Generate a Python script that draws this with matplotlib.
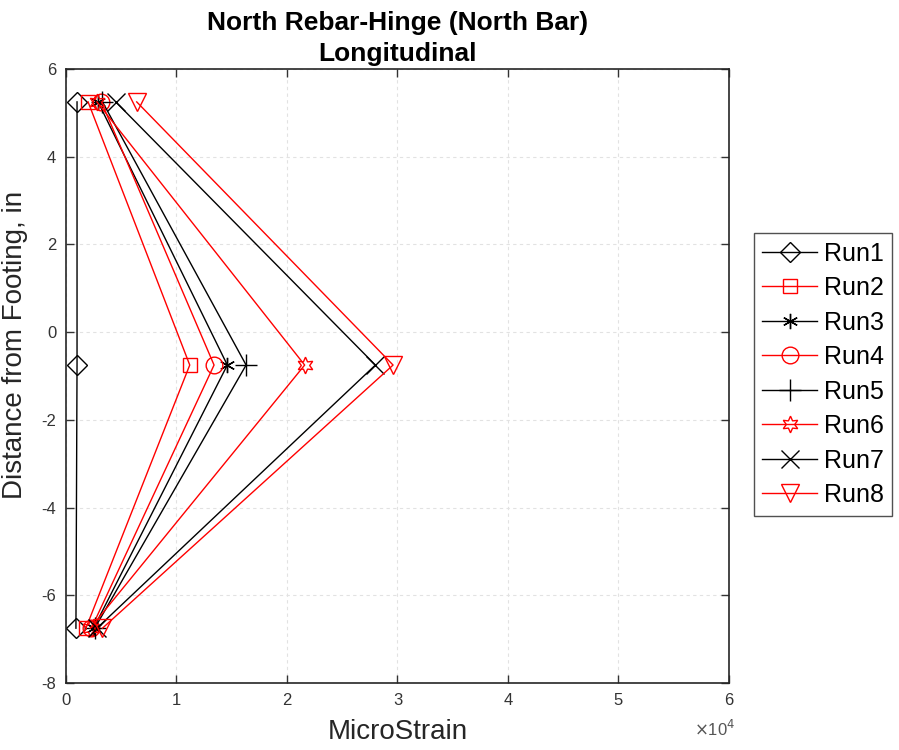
import matplotlib
matplotlib.use("Agg")
import matplotlib.pyplot as plt
from matplotlib.ticker import FuncFormatter

plt.rcParams['font.family'] = ['Liberation Sans', 'DejaVu Sans']
plt.rcParams['axes.unicode_minus'] = False

# gauge locations (in from top of footing)
depth = [5.25, -0.75, -6.75]

# microstrain at each gauge, per run (top, middle, bottom)
run1 = [1000, 1000, 900]
run2 = [2000, 11200, 1800]
run3 = [2900, 14600, 2500]
run4 = [3200, 13400, 2300]
run5 = [3300, 16300, 2600]
run6 = [2800, 21600, 2200]
run7 = [4500, 28000, 2800]
run8 = [6400, 29600, 3300]

runs = [run1, run2, run3, run4, run5, run6, run7, run8]
labels = ['Run1', 'Run2', 'Run3', 'Run4', 'Run5', 'Run6', 'Run7', 'Run8']
markers = ['D', 's', (6, 2, 0), 'o', '+', (6, 1, 0), 'x', 'v']
colors = ['k', 'r', 'k', 'r', 'k', 'r', 'k', 'r']
msizes = [10, 10, 11, 12, 16, 12, 13, 13]

fig = plt.figure(figsize=(8.99, 7.5), dpi=100)
ax = fig.add_axes([0.0734, 0.0893, 0.7375, 0.8187])

for vals, lab, mk, c, ms in zip(runs, labels, markers, colors, msizes):
    ax.plot(vals, depth, color=c, marker=mk, markersize=ms, markerfacecolor='none',
            markeredgecolor=c, markeredgewidth=1.0, linewidth=1.0, label=lab)

ax.set_xlim(0, 60000)
ax.set_ylim(-8, 6)
ax.set_xticks(range(0, 60001, 10000))
ax.set_yticks(range(-8, 7, 2))
ax.xaxis.set_major_formatter(FuncFormatter(lambda v, p: '%d' % round(v / 1e4)))
ax.tick_params(direction='in', top=True, right=True, length=6, width=1,
               labelsize=12, colors='#333333', pad=7)
ax.grid(True, color='#e2e2e2', linestyle=(0, (3, 3)), linewidth=0.8)
for s in ax.spines.values():
    s.set_linewidth(1.2)
    s.set_color('#262626')

ax.set_xlabel('MicroStrain', fontsize=20, color='#262626', labelpad=8)
ax.set_ylabel('Distance from Footing, in', fontsize=20, color='#262626')
ax.yaxis.set_label_coords(-0.058, 0.55)
ax.set_title('North Rebar-Hinge (North Bar)\nLongitudinal', fontsize=19,
             fontweight='bold', linespacing=1.35, pad=6)
ax.text(1.01, -0.058, r'$\times$10$^4$', transform=ax.transAxes, ha='right',
        va='top', fontsize=12, color='#555555')

leg = ax.legend(loc='upper left', bbox_to_anchor=(1.037, 0.733), fontsize=18,
                frameon=True, fancybox=False, edgecolor='#262626',
                handlelength=2.2, borderpad=0.35, labelspacing=0.42,
                handletextpad=0.25, borderaxespad=0)
leg.get_frame().set_linewidth(1.0)

fig.savefig('out.png', dpi=100)
